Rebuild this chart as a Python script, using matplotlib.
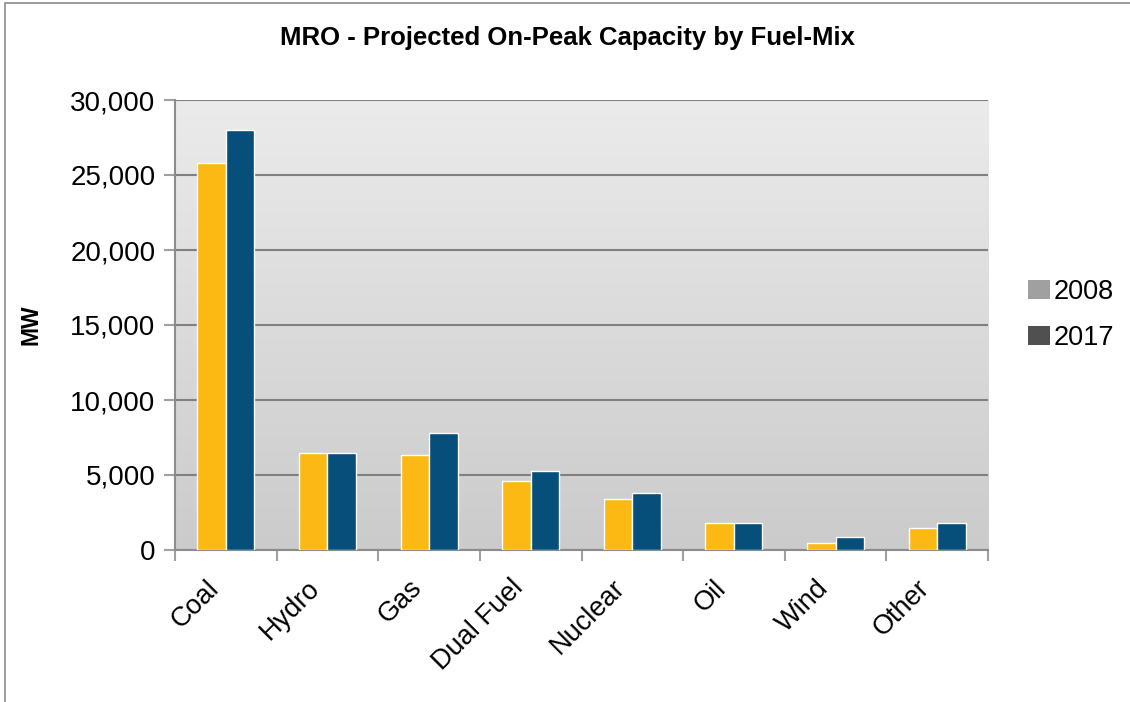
import numpy as np
import matplotlib.pyplot as plt
from matplotlib.patches import Patch, Rectangle
from matplotlib.ticker import FuncFormatter

plt.rcParams['font.family'] = ['Liberation Sans', 'DejaVu Sans']

fuels = ['Coal', 'Hydro', 'Gas', 'Dual Fuel', 'Nuclear', 'Oil', 'Wind', 'Other']
mw_2008 = [25800, 6500, 6350, 4620, 3420, 1820, 490, 1450]
mw_2017 = [28000, 6500, 7800, 5270, 3800, 1820, 890, 1820]

fig = plt.figure(figsize=(11.3, 7.02), dpi=100)
ax = fig.add_axes([175 / 1130, 1 - 550 / 702, 813 / 1130, 450 / 702])

# outer frame (only left and top visible)
fig.patches.append(Rectangle((5 / 1130, -0.1), 1.2, 1 - 3 / 702 + 0.1, transform=fig.transFigure,
                             fill=False, edgecolor='#8c8c8c', linewidth=1.2))

# gradient background
grad = np.linspace(0, 1, 256).reshape(-1, 1)
ax.imshow(grad, extent=[-0.5, len(fuels) - 0.5, 0, 30000], aspect='auto',
          cmap=plt.matplotlib.colors.LinearSegmentedColormap.from_list('bg', ['#cbcbcb', '#ebebeb']),
          origin='lower', zorder=0)

x = np.arange(len(fuels))
w = 0.28
ax.bar(x - w / 2, mw_2008, w, color='#fdb913', edgecolor='white', linewidth=1, zorder=3)
ax.bar(x + w / 2, mw_2017, w, color='#064f7b', edgecolor='white', linewidth=1, zorder=3)

ax.set_xlim(-0.5, len(fuels) - 0.5)
ax.set_ylim(0, 30000)
ax.set_yticks(range(0, 30001, 5000))
ax.yaxis.set_major_formatter(FuncFormatter(lambda v, p: '{:,.0f}'.format(v)))
ax.grid(axis='y', color='#808080', linewidth=1.5, zorder=1)
ax.set_axisbelow(True)

# major ticks between categories, labels on invisible minor ticks
ax.set_xticks(np.arange(-0.5, len(fuels), 1.0))
ax.set_xticklabels([])
ax.set_xticks(x - 0.2, minor=True)
ax.set_xticklabels(fuels, minor=True, rotation=45, ha='right', rotation_mode='anchor', fontsize=19.5)
ax.tick_params(axis='x', which='minor', length=0, pad=18)
ax.tick_params(axis='x', which='major', length=8, color='#a0a0a0', width=1.5)
ax.tick_params(axis='y', length=8, color='#a0a0a0', width=1.5, labelsize=20, pad=6)

for s in ['top', 'right']:
    ax.spines[s].set_visible(False)
for s in ['left', 'bottom']:
    ax.spines[s].set_color('#8c8c8c')
    ax.spines[s].set_linewidth(1.5)

ax.set_ylabel('MW', fontsize=16.5, fontweight='bold', labelpad=20)

fig.text(567 / 1130, 1 - 38 / 702, 'MRO - Projected On-Peak Capacity by Fuel-Mix',
         ha='center', va='center', fontsize=18.5, fontweight='bold')

handles = [Patch(facecolor='#a0a0a0', label='2008'), Patch(facecolor='#505050', label='2017')]
fig.legend(handles=handles, loc='center left', bbox_to_anchor=(1004 / 1130, 1 - 315 / 702),
           frameon=False, fontsize=19.5, handlelength=0.8, handleheight=0.7, handletextpad=0.15,
           labelspacing=0.75)

fig.savefig('out.png', dpi=100)
